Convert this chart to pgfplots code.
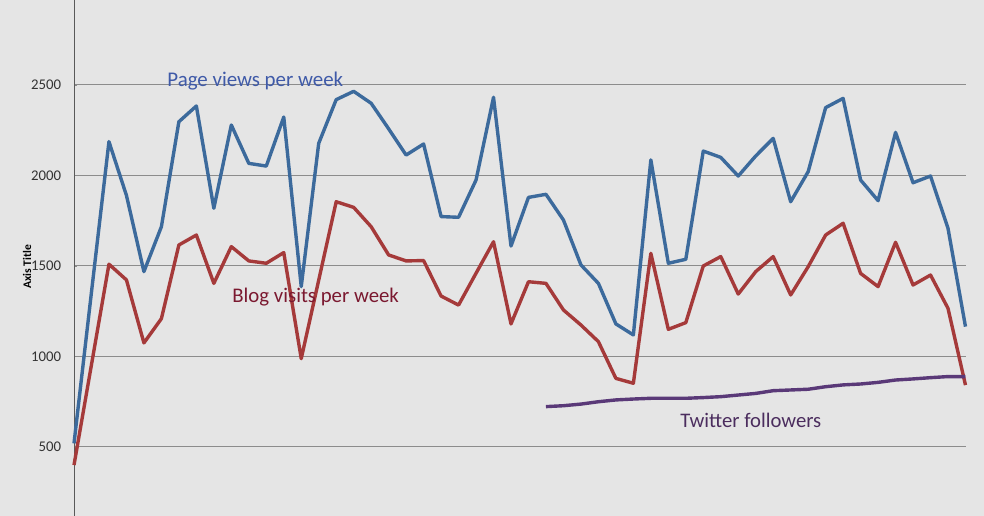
\documentclass[border=0pt]{standalone}
\usepackage{fontspec}
\setmainfont{Carlito}
\usepackage{pgfplots}
\pgfplotsset{compat=1.18}
\definecolor{bg}{HTML}{E5E5E5}
\definecolor{pvline}{HTML}{3C6A9C}
\definecolor{bvline}{HTML}{A53A3A}
\definecolor{twline}{HTML}{5A3978}
\definecolor{pvtext}{HTML}{3F5AA8}
\definecolor{bvtext}{HTML}{7B1930}
\definecolor{twtext}{HTML}{4B2D5E}
\begin{document}
\begin{tikzpicture}
\path[use as bounding box] (-37bp,0) rectangle (455bp,258bp);
\fill[bg] (-37bp,0) rectangle (455bp,258bp);
\begin{axis}[
  at={(0,0)}, anchor=south west,
  scale only axis, width=446bp, height=258bp,
  xmin=0, xmax=51.03, ymin=118.7, ymax=2969.6,
  clip=false,
  axis x line=none,
  axis y line*=left,
  y axis line style={draw=black!65, line width=0.5bp, -},
  ytick={500,1000,1500,2000,2500},
  ymajorgrids,
  grid style={draw=black!45, line width=0.5bp},
  major tick length=1.5bp,
  tick style={draw=black!45, line width=0.4bp},
  /pgf/number format/assume math mode=true,
  /pgf/number format/1000 sep={},
  yticklabel style={font=\fontsize{7.4bp}{8bp}\selectfont, text=black!80, inner sep=0pt, xshift=-6.2bp},
  line join=round,
]
\addplot[pvline, line width=1.7bp] coordinates {
(0,520) (1,1356) (2,2187) (3,1890) (4,1469) (5,1717) (6,2297) (7,2384) (8,1819) (9,2279)
(10,2067) (11,2052) (12,2323) (13,1386) (14,2178) (15,2419) (16,2465) (17,2399) (18,2258) (19,2113)
(20,2174) (21,1773) (22,1769) (23,1975) (24,2432) (25,1610) (26,1879) (27,1896) (28,1754) (29,1506)
(30,1404) (31,1180) (32,1119) (33,2086) (34,1515) (35,1537) (36,2135) (37,2100) (38,1997) (39,2108)
(40,2205) (41,1855) (42,2021) (43,2375) (44,2426) (45,1975) (46,1861) (47,2238) (48,1960) (49,1997)
(50,1708) (51,1165)
};
\addplot[bvline, line width=1.7bp] coordinates {
(0,400) (1,955) (2,1510) (3,1423) (4,1075) (5,1209) (6,1616) (7,1671) (8,1404) (9,1607)
(10,1528) (11,1515) (12,1574) (13,988) (14,1422) (15,1855) (16,1824) (17,1717) (18,1561) (19,1528)
(20,1530) (21,1334) (22,1284) (23,1460) (24,1634) (25,1180) (26,1413) (27,1404) (28,1257) (29,1174)
(30,1082) (31,879) (32,852) (33,1570) (34,1150) (35,1187) (36,1500) (37,1552) (38,1345) (39,1469)
(40,1552) (41,1340) (42,1496) (43,1671) (44,1736) (45,1459) (46,1386) (47,1631) (48,1395) (49,1450)
(50,1266) (51,842)
};
\addplot[twline, line width=1.7bp] coordinates {
(27,723) (28,728) (29,737) (30,750) (31,760) (32,765) (33,769) (34,769) (35,769) (36,773)
(37,778) (38,787) (39,796) (40,811) (41,815) (42,819) (43,833) (44,843) (45,848) (46,857)
(47,870) (48,876) (49,883) (50,889) (51,889)
};
\node[anchor=base west, inner sep=0pt, text=pvtext, font=\fontsize{10.45bp}{12bp}\selectfont] at (axis cs:5.32,2494) {Page views per week};
\node[anchor=base west, inner sep=0pt, text=bvtext, font=\fontsize{10.4bp}{12bp}\selectfont] at (axis cs:9.04,1296) {Blog visits per week};
\node[anchor=base west, inner sep=0pt, text=twtext, font=\fontsize{10.35bp}{12bp}\selectfont] at (axis cs:34.67,610) {Twitter followers};
\node[rotate=90, inner sep=0pt, font=\bfseries\fontsize{5.8bp}{7bp}\selectfont] at (axis description cs:-0.0527,0.4826) {Axis Title};
\node[anchor=east, inner sep=0pt, text=black!80, font=\fontsize{7.4bp}{8bp}\selectfont] at (axis cs:-0.73,3000) {3000};
\end{axis}
\end{tikzpicture}
\end{document}
